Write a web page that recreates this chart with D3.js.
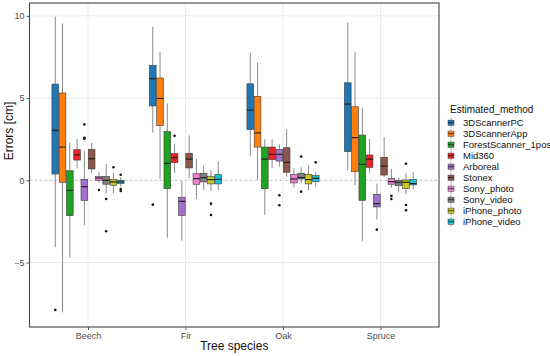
<!DOCTYPE html>
<html><head><meta charset="utf-8">
<script src="https://cdn.jsdelivr.net/npm/d3@7"></script>
<style>body{margin:0;background:#fff}svg{display:block;font-family:"Liberation Sans",Arial,sans-serif}</style>
</head><body><svg id="c" width="550" height="356"></svg>
<script>
const species = ["Beech", "Fir", "Oak", "Spruce"];
const methods = ["3DScannerPC","3DScannerApp","ForestScanner_1pos","Mid360","Arboreal","Stonex","Sony_photo","Sony_video","iPhone_photo","iPhone_video"];
const colors = ["#1f77b4","#ff7f0e","#1fa31f","#ee2222","#a070cc","#8c564b","#f07fd0","#808080","#c8c81e","#19c0d6"];
const yTicks = [-5, 0, 5, 10];
// rows: species, columns: methods
const whiskerLow = [
  [-4.07,-8.03,-4.7,0.73,-2.74,0.43,-0.15,-0.79,-0.79,-0.39],
  [2.9,0.08,-3.49,0.46,-3.67,0.12,-1.14,-0.59,-0.65,-0.59],
  [1.48,0.02,-2.11,0.73,0.83,0.22,-0.43,-0.18,-0.61,-0.39],
  [0.61,-0.3,-3.69,0.46,-2.39,0.2,-0.45,-0.73,-0.85,-0.55]];
const q1 = [
  [0.38,-0.12,-2.15,1.23,-1.22,0.69,0.0,-0.24,-0.3,-0.2],
  [4.52,3.32,-0.51,1.07,-2.13,0.75,-0.24,-0.1,-0.22,-0.22],
  [3.08,2.02,-0.51,1.25,1.17,0.49,-0.16,0.08,-0.22,-0.08],
  [1.74,0.52,-1.22,0.79,-1.62,0.32,-0.24,-0.33,-0.51,-0.28]];
const median = [
  [3.04,2.02,-0.61,1.54,-0.39,1.31,0.14,0.0,-0.1,-0.1],
  [6.18,4.98,1.03,1.37,-1.28,1.29,0.1,0.16,0.04,0.06],
  [4.27,2.88,1.29,1.58,1.58,1.09,0.08,0.16,0.04,0.12],
  [4.64,2.59,0.97,1.28,-1.42,0.87,-0.08,-0.12,-0.12,-0.2]];
const q3 = [
  [5.85,5.31,0.58,1.86,0.06,1.88,0.22,0.24,0.06,0.0],
  [6.99,6.22,2.96,1.62,-1.03,1.64,0.4,0.43,0.24,0.36],
  [5.87,5.1,2.02,2.02,1.88,1.98,0.36,0.43,0.36,0.28],
  [5.93,4.47,2.75,1.54,-0.85,1.4,0.1,0.0,0.02,0.06]];
const whiskerHigh = [
  [9.95,9.54,2.31,2.49,1.78,2.27,0.52,0.99,0.43,0.2],
  [9.34,7.82,4.68,2.19,-0.04,2.73,1.31,0.89,0.63,1.16],
  [7.76,7.15,2.49,2.49,2.19,3.1,0.73,0.79,0.91,0.5],
  [9.6,7.82,4.41,2.51,-0.2,2.63,0.69,0.16,0.46,0.49]];
// [species index, method index, value]
const outliers = [
  [0,0,-7.88],[0,4,3.4],[0,4,2.59],[0,4,2.53],[0,6,-0.59],[0,7,-1.14],[0,7,-3.1],[0,8,0.79],[0,9,0.34],[0,9,-0.53],[0,9,-0.65],
  [1,0,-1.48],[1,3,2.71],[1,8,-1.42],[1,8,-2.11],
  [2,4,-0.91],[2,4,-1.52],[2,7,1.44],[2,7,-0.69],[2,9,1.09],
  [3,4,-3.0],[3,6,-0.95],[3,6,-1.14],[3,8,1.01],[3,8,-1.5],[3,8,-1.82]];

const svg = d3.select("#c");
const L = 29.5, R = 439, T = 3, B = 327;
const x = d3.scalePoint().domain(species).range([L, R]).padding(0.6);
const inner = d3.scaleBand().domain(methods).range([-x.step()*0.37, x.step()*0.37]).paddingInner(0.08);
const y = d3.scaleLinear().domain([-8.92, 10.78]).range([B, T]);

// grid
const g = svg.append("g");
g.selectAll(".hg").data(yTicks.filter(d => d !== 0)).join("line")
  .attr("x1", L).attr("x2", R).attr("y1", d => y(d)).attr("y2", d => y(d))
  .attr("stroke", "#ebebeb").attr("stroke-width", 1);
g.selectAll(".vg").data(species).join("line")
  .attr("x1", d => x(d)).attr("x2", d => x(d)).attr("y1", T).attr("y2", B)
  .attr("stroke", "#ebebeb").attr("stroke-width", 1);
g.append("line").attr("x1", L).attr("x2", R).attr("y1", y(0)).attr("y2", y(0))
  .attr("stroke", "#b0b0b0").attr("stroke-width", 0.8).attr("stroke-dasharray", "3,2");

// boxes
const boxes = [];
species.forEach((s, i) => methods.forEach((m, j) => boxes.push({s, i, m, j})));
const bw = inner.bandwidth();
const bg = svg.append("g").selectAll("g").data(boxes).join("g")
  .attr("transform", d => `translate(${x(d.s) + inner(d.m)},0)`);
bg.append("line").attr("x1", bw/2).attr("x2", bw/2)
  .attr("y1", d => y(whiskerHigh[d.i][d.j])).attr("y2", d => y(q3[d.i][d.j]))
  .attr("stroke", "#8a8a8a").attr("stroke-width", 1);
bg.append("line").attr("x1", bw/2).attr("x2", bw/2)
  .attr("y1", d => y(q1[d.i][d.j])).attr("y2", d => y(whiskerLow[d.i][d.j]))
  .attr("stroke", "#8a8a8a").attr("stroke-width", 1);
bg.append("rect").attr("x", 0).attr("width", bw)
  .attr("y", d => y(q3[d.i][d.j])).attr("height", d => Math.max(1, y(q1[d.i][d.j]) - y(q3[d.i][d.j])))
  .attr("fill", d => colors[d.j]).attr("stroke", "#3a3a3a").attr("stroke-width", 0.6);
bg.append("line").attr("x1", 0).attr("x2", bw)
  .attr("y1", d => y(median[d.i][d.j])).attr("y2", d => y(median[d.i][d.j]))
  .attr("stroke", "#1a1a1a").attr("stroke-width", 1.1);

svg.append("g").selectAll("circle").data(outliers).join("circle")
  .attr("cx", d => x(species[d[0]]) + inner(methods[d[1]]) + bw/2)
  .attr("cy", d => y(d[2])).attr("r", 1.3).attr("fill", "#111");

// panel border
svg.append("rect").attr("x", L).attr("y", T).attr("width", R - L).attr("height", B - T)
  .attr("fill", "none").attr("stroke", "#444").attr("stroke-width", 1.1);

// axes
const ya = svg.append("g").attr("transform", `translate(${L},0)`)
  .call(d3.axisLeft(y).tickValues(yTicks).tickSize(3).tickPadding(2));
ya.select(".domain").remove();
ya.selectAll("line").attr("stroke", "#555");
ya.selectAll("text").attr("fill", "#4d4d4d").style("font-size", "9px").style("font-family", "Liberation Sans, Arial, sans-serif");
const xa = svg.append("g").attr("transform", `translate(0,${B})`)
  .call(d3.axisBottom(x).tickSize(3).tickPadding(3));
xa.select(".domain").remove();
xa.selectAll("line").attr("stroke", "#555");
xa.selectAll("text").attr("fill", "#4d4d4d").style("font-size", "9px").style("font-family", "Liberation Sans, Arial, sans-serif");

svg.append("text").attr("x", (L + R)/2).attr("y", 350).attr("text-anchor", "middle")
  .style("font-size", "12px").attr("fill", "#111").text("Tree species");
svg.append("text").attr("transform", "translate(13,131) rotate(-90)").attr("text-anchor", "middle")
  .style("font-size", "12px").attr("fill", "#111").text("Errors [cm]");

// legend
const lg = svg.append("g").attr("transform", "translate(448,0)");
lg.append("text").attr("x", 2).attr("y", 113).style("font-size", "10px").attr("fill", "#111").text("Estimated_method");
const li = lg.selectAll(".li").data(methods).join("g")
  .attr("transform", (d, i) => `translate(0,${122.7 + i*11})`);
li.append("line").attr("x1", 3).attr("x2", 3).attr("y1", -5).attr("y2", 5).attr("stroke", "#8a8a8a").attr("stroke-width", 0.8);
li.append("rect").attr("x", 0).attr("y", -2.6).attr("width", 6).attr("height", 5.2)
  .attr("fill", (d, i) => colors[i]).attr("stroke", "#3a3a3a").attr("stroke-width", 0.5);
li.append("line").attr("x1", 0).attr("x2", 6).attr("y1", 0).attr("y2", 0).attr("stroke", "#1a1a1a").attr("stroke-width", 0.8);
li.append("text").attr("x", 15).attr("y", 3.5).style("font-size", "9.5px").attr("fill", "#111").text(d => d);
</script></body></html>
